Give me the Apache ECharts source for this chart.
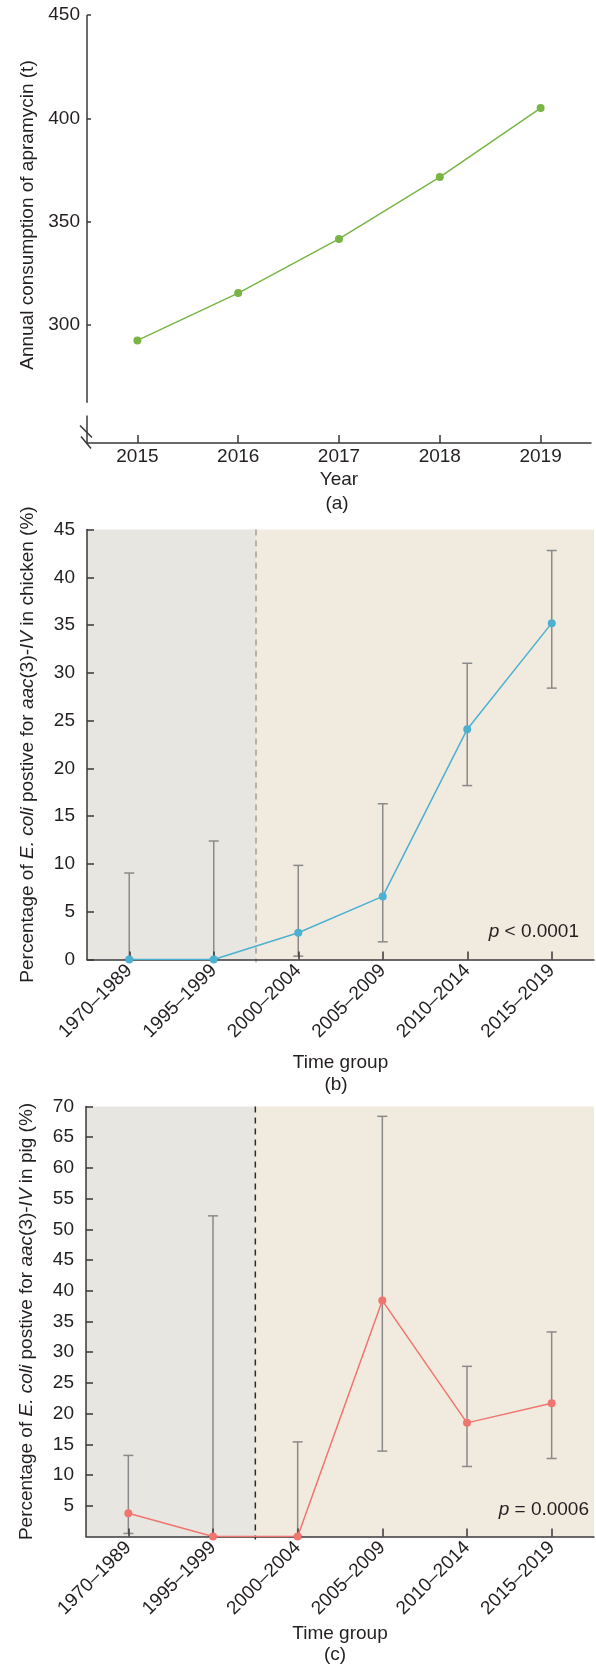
<!DOCTYPE html>
<html>
<head>
<meta charset="utf-8">
<script src="https://cdn.jsdelivr.net/npm/echarts@6/dist/echarts.min.js"></script>
<style>
  html, body { margin: 0; padding: 0; background: #ffffff; }
  #chart { width: 596px; height: 1665px; }
</style>
</head>
<body>
<div id="chart"></div>
<script>
// ---------- data ----------
const years = ['2015', '2016', '2017', '2018', '2019'];
const consumption = [292.6, 315.5, 341.7, 371.6, 405.0];
const consumptionTicks = [300, 350, 400, 450];

const timeGroups = ['1970–1989', '1995–1999', '2000–2004', '2005–2009', '2010–2014', '2015–2019'];
const chickenRate  = [0, 0, 2.8, 6.6, 24.1, 35.2];
const chickenLower = [0, 0, 0.35, 1.85, 18.2, 28.4];
const chickenUpper = [9.05, 12.4, 9.85, 16.3, 31.0, 42.8];

const pigRate  = [3.8, 0, 0, 38.4, 18.5, 21.7];
const pigLower = [0.5, 0, 0, 13.9, 11.4, 12.7];
const pigUpper = [13.2, 52.2, 15.4, 68.4, 27.7, 33.3];

// period boundaries in category units (before 2000 / from 2000 on)
const periodBounds = [[0, 2], [2, 6]];

// ---------- styles ----------
const FONT = '"Liberation Sans", Arial, Helvetica, sans-serif';
const LABEL = '#231f20';
const AXIS = '#3a3737';
const BAR = '#8a8a8a';
const GREEN = '#79b545';
const BLUE = '#4cb0d1';
const RED = '#f07470';
const BAND_COLORS = ['#e8e6e1', '#f1ebdf'];
const TICK_FS = 19;
const NAME_FS = 19;

const chart = echarts.init(document.getElementById('chart'), null, { renderer: 'canvas' });

function nameStyle() {
  return {
    fontSize: NAME_FS, fontFamily: FONT, color: LABEL,
    rich: {
      n: { fontSize: NAME_FS, fontFamily: FONT, color: LABEL },
      i: { fontSize: NAME_FS, fontFamily: FONT, color: LABEL, fontStyle: 'italic' }
    }
  };
}

function errorBarItem(params, api) {
  const x = api.value(0);
  const lo = api.coord([x, api.value(1)]);
  const hi = api.coord([x, api.value(2)]);
  const half = 5;
  const style = { stroke: BAR, lineWidth: 1.5 };
  return {
    type: 'group',
    children: [
      { type: 'line', shape: { x1: hi[0], y1: hi[1], x2: lo[0], y2: lo[1] }, style },
      { type: 'line', shape: { x1: hi[0] - half, y1: hi[1], x2: hi[0] + half, y2: hi[1] }, style },
      { type: 'line', shape: { x1: lo[0] - half, y1: lo[1], x2: lo[0] + half, y2: lo[1] }, style }
    ]
  };
}

function bandItem(divColor, divWidth) {
  return function (params, api) {
    const start = api.coord([api.value(0), 0])[0];
    const end = api.coord([api.value(1), 0])[0];
    const cs = params.coordSys;
    const children = [{
      type: 'rect',
      shape: { x: start, y: cs.y, width: end - start, height: cs.height },
      style: { fill: BAND_COLORS[params.dataIndex] }
    }];
    if (params.dataIndex > 0) {
      children.push({
        type: 'line',
        shape: { x1: start, y1: cs.y, x2: start, y2: cs.y + cs.height + 3 },
        style: { stroke: divColor, lineWidth: divWidth, lineDash: [6, 5] }
      });
    }
    return { type: 'group', children };
  };
}

const axisLineStyle = { color: AXIS, width: 1.5 };
const tickLabel = { fontSize: TICK_FS, fontFamily: FONT, color: LABEL };

function catAxis(gridIndex, data, rotate, nameGap) {
  return {
    gridIndex, type: 'category', data, boundaryGap: true, z: 3,
    axisLine: { show: true, lineStyle: axisLineStyle },
    axisTick: { show: true, alignWithLabel: true, inside: true, length: 8, lineStyle: axisLineStyle },
    axisLabel: Object.assign({ interval: 0, rotate, margin: rotate ? 8 : 4 }, tickLabel),
    splitLine: { show: false },
    name: rotate ? 'Time group' : 'Year',
    nameLocation: 'middle', nameGap,
    nameTextStyle: { fontSize: NAME_FS, fontFamily: FONT, color: LABEL }
  };
}

function hiddenValueX(gridIndex) {
  return { gridIndex, type: 'value', min: 0, max: 6, show: false };
}

const option = {
  animation: false,
  backgroundColor: '#ffffff',
  grid: [
    { left: 87, top: 15, width: 504, height: 428 },
    { left: 87, top: 529.5, width: 507, height: 430 },
    { left: 86, top: 1106.5, width: 508, height: 430 }
  ],
  xAxis: [
    catAxis(0, years, 0, 27),
    catAxis(1, timeGroups, 45, 94),
    hiddenValueX(1),
    catAxis(2, timeGroups, 45, 88),
    hiddenValueX(2)
  ],
  yAxis: [
    {
      gridIndex: 0, type: 'value', min: 243, max: 450, z: 3,
      axisLine: { show: false },
      axisTick: { show: true, inside: true, length: 4, lineStyle: axisLineStyle, customValues: consumptionTicks },
      axisLabel: Object.assign({ margin: 7, customValues: consumptionTicks }, tickLabel),
      splitLine: { show: false },
      name: 'Annual consumption of apramycin (t)',
      nameLocation: 'middle', nameGap: 50,
      nameTextStyle: { fontSize: NAME_FS, fontFamily: FONT, color: LABEL, padding: [0, 0, 0, 28] }
    },
    {
      gridIndex: 1, type: 'value', min: 0, max: 45, interval: 5, z: 3,
      axisLine: { show: true, lineStyle: axisLineStyle },
      axisTick: { show: true, inside: true, length: 7, lineStyle: axisLineStyle },
      axisLabel: Object.assign({ margin: 12 }, tickLabel),
      splitLine: { show: false },
      name: '{n|Percentage of }{i|E. coli}{n| postive for }{i|aac}{n|(3)-}{i|IV}{n| in chicken (%)}',
      nameLocation: 'middle', nameGap: 50,
      nameTextStyle: nameStyle()
    },
    {
      gridIndex: 2, type: 'value', min: 0, max: 70, interval: 5, z: 3,
      axisLine: { show: true, lineStyle: axisLineStyle },
      axisTick: { show: true, inside: true, length: 7, lineStyle: axisLineStyle },
      axisLabel: Object.assign({ margin: 12, showMinLabel: false }, tickLabel),
      splitLine: { show: false },
      name: '{n|Percentage of }{i|E. coli}{n| postive for }{i|aac}{n|(3)-}{i|IV}{n| in pig (%)}',
      nameLocation: 'middle', nameGap: 50,
      nameTextStyle: nameStyle()
    }
  ],
  series: [
    {
      type: 'line', xAxisIndex: 0, yAxisIndex: 0, data: consumption, z: 5,
      symbol: 'circle', symbolSize: 8,
      lineStyle: { color: GREEN, width: 1.5 }, itemStyle: { color: GREEN }
    },
    // chart (b)
    {
      type: 'custom', xAxisIndex: 2, yAxisIndex: 1, z: 1, silent: true,
      data: periodBounds, renderItem: bandItem('#7d7d7d', 1)
    },
    {
      type: 'custom', xAxisIndex: 1, yAxisIndex: 1, z: 2, silent: true,
      data: timeGroups.map((g, i) => [i, chickenLower[i], chickenUpper[i]]),
      renderItem: errorBarItem
    },
    {
      type: 'line', xAxisIndex: 1, yAxisIndex: 1, data: chickenRate, z: 5,
      symbol: 'circle', symbolSize: 8,
      lineStyle: { color: BLUE, width: 1.5 }, itemStyle: { color: BLUE }
    },
    // chart (c)
    {
      type: 'custom', xAxisIndex: 4, yAxisIndex: 2, z: 1, silent: true,
      data: periodBounds, renderItem: bandItem('#2f2c2c', 1.5)
    },
    {
      type: 'custom', xAxisIndex: 3, yAxisIndex: 2, z: 2, silent: true,
      data: timeGroups.map((g, i) => [i, pigLower[i], pigUpper[i]]),
      renderItem: errorBarItem
    },
    {
      type: 'line', xAxisIndex: 3, yAxisIndex: 2, data: pigRate, z: 5,
      symbol: 'circle', symbolSize: 8,
      lineStyle: { color: RED, width: 1.5 }, itemStyle: { color: RED }
    }
  ]
};

chart.setOption(option);

// ---------- annotations & broken y-axis of (a) ----------
const capStyle = { font: NAME_FS + 'px ' + FONT, fill: LABEL, align: 'center', verticalAlign: 'middle' };
function pText(x, y, rest) {
  return {
    type: 'text', x, y, z: 10,
    style: {
      text: '{i|p}{n|' + rest + '}',
      align: 'right', verticalAlign: 'middle',
      rich: {
        i: { fontSize: TICK_FS, fontFamily: FONT, fill: LABEL, fontStyle: 'italic' },
        n: { fontSize: TICK_FS, fontFamily: FONT, fill: LABEL }
      }
    }
  };
}

const axisX = option.grid[0].left;
const yTop = chart.convertToPixel({ yAxisIndex: 0 }, 450);
const yGapTop = chart.convertToPixel({ yAxisIndex: 0 }, 262.5);
const yGapBottom = chart.convertToPixel({ yAxisIndex: 0 }, 256.3);
const yBase = chart.convertToPixel({ yAxisIndex: 0 }, 243);
const brk = { stroke: AXIS, lineWidth: 1.5 };

chart.setOption({
  graphic: [
    { type: 'line', z: 10, shape: { x1: axisX, y1: yTop, x2: axisX, y2: yGapTop }, style: brk },
    { type: 'line', z: 10, shape: { x1: axisX, y1: yGapBottom, x2: axisX, y2: yBase }, style: brk },
    { type: 'line', z: 10, shape: { x1: axisX - 7, y1: yGapBottom + 10, x2: axisX + 5, y2: yGapBottom + 22 }, style: brk },
    { type: 'line', z: 10, shape: { x1: axisX - 6, y1: yGapBottom + 21, x2: axisX + 4, y2: yGapBottom + 33 }, style: brk },
    { type: 'text', x: 337, y: 503.5, z: 10, style: Object.assign({ text: '(a)' }, capStyle) },
    { type: 'text', x: 336, y: 1085, z: 10, style: Object.assign({ text: '(b)' }, capStyle) },
    { type: 'text', x: 335, y: 1655, z: 10, style: Object.assign({ text: '(c)' }, capStyle) },
    pText(579, 932, ' < 0.0001'),
    pText(589, 1509.5, ' = 0.0006')
  ]
});
</script>
</body>
</html>
